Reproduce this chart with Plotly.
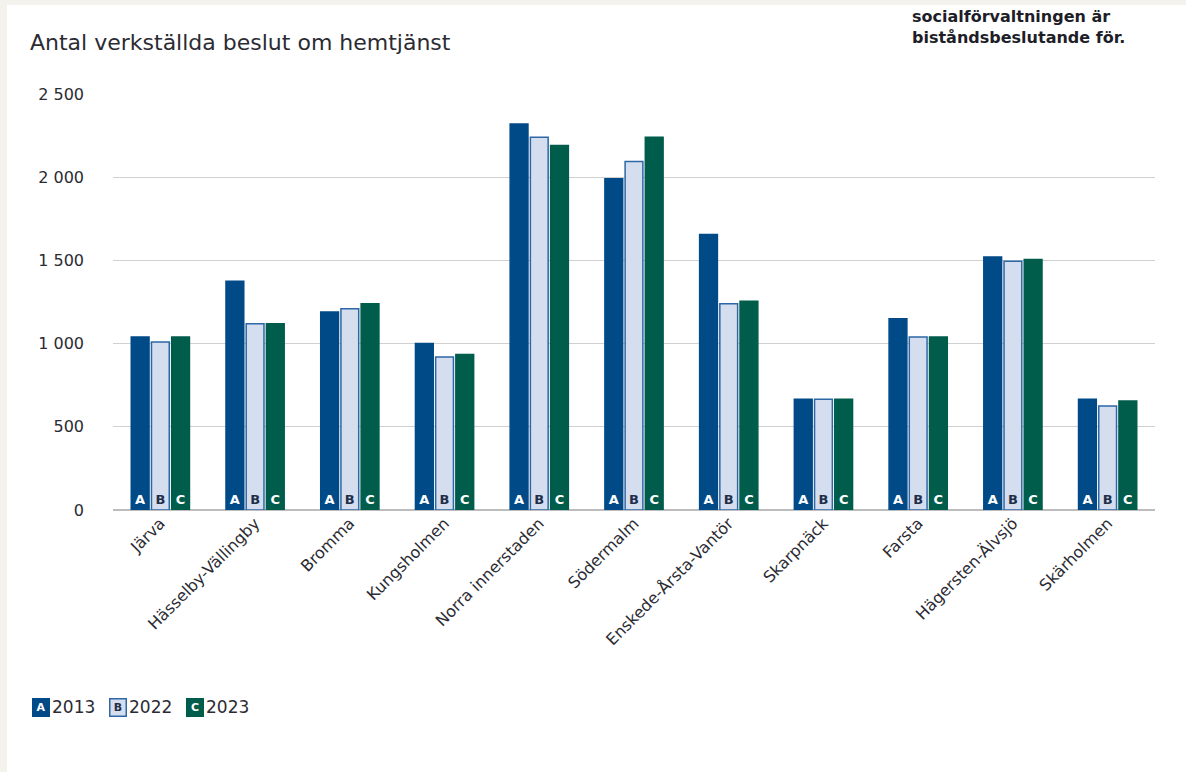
import plotly.graph_objects as go

categories = ["Järva", "Hässelby-Vällingby", "Bromma", "Kungsholmen", "Norra innerstaden",
              "Södermalm", "Enskede-Årsta-Vantör", "Skarpnäck", "Farsta", "Hägersten-Älvsjö", "Skärholmen"]
series_names = ["2013", "2022", "2023"]
series_letters = ["A", "B", "C"]
values_2013 = [1040, 1375, 1190, 1000, 2320, 1990, 1655, 665, 1150, 1520, 665]
values_2022 = [1010, 1120, 1210, 920, 2240, 2095, 1240, 665, 1040, 1495, 625]
values_2023 = [1040, 1120, 1240, 935, 2190, 2240, 1255, 665, 1040, 1505, 655]
y_ticks = [0, 500, 1000, 1500, 2000, 2500]
y_tick_labels = ["0", "500", "1 000", "1 500", "2 000", "2 500"]

W, H = 1186, 772
L, R, T, B = 113, 31, 94, 262
PW, PH = W - L - R, H - T - B
FONT = "DejaVu Sans"

fills = ["#004a87", "#d5deef", "#005c4b"]
lines = ["#004a87", "#2d67a6", "#005c4b"]
text_colors = ["white", "#1f2f4a", "white"]

fig = go.Figure()
for name, letter, vals, fc, lc, tc in zip(series_names, series_letters,
                                          [values_2013, values_2022, values_2023],
                                          fills, lines, text_colors):
    fig.add_trace(go.Bar(
        x=categories, y=vals, name=name,
        marker=dict(color=fc, line=dict(color=lc, width=1.5)),
        text=[letter] * len(vals), textposition="inside", insidetextanchor="start",
        textangle=0, constraintext="none",
        textfont=dict(family=FONT, size=13, color=tc, weight="bold"),
        showlegend=False, hoverinfo="x+y+name",
    ))

def px_x(p):
    return (p - L) / PW

def px_y(p):
    return 1 - (p - T) / PH

shapes = [
    dict(type="rect", xref="paper", yref="paper", x0=px_x(7), x1=px_x(W + 5), y0=px_y(H + 5), y1=px_y(5),
         fillcolor="white", line=dict(width=0), layer="below"),
]

annotations = [
    dict(text="Antal verkställda beslut om hemtjänst", xref="paper", yref="paper",
         x=px_x(28), y=px_y(42), xanchor="left", yanchor="middle", showarrow=False,
         font=dict(family=FONT, size=22, color="#2b2b33")),
    dict(text="<b>socialförvaltningen är<br>biståndsbeslutande för.</b>", xref="paper", yref="paper",
         x=px_x(910), y=px_y(27), xanchor="left", yanchor="middle", showarrow=False, align="left",
         font=dict(family=FONT, size=16, color="#1e1e28")),
]

# legend built from series info
lx = 32
for name, letter, fc, lc, tc in zip(series_names, series_letters, fills, lines, text_colors):
    annotations.append(dict(text="<b>" + letter + "</b>", xref="paper", yref="paper",
                            x=px_x(lx), y=px_y(707), xanchor="left", yanchor="middle", showarrow=False,
                            bgcolor=fc, bordercolor=lc, borderwidth=1.5, borderpad=1,
                            width=13, height=14,
                            font=dict(family=FONT, size=11, color=tc)))
    annotations.append(dict(text=name, xref="paper", yref="paper",
                            x=px_x(lx + 18), y=px_y(707), xanchor="left", yanchor="middle", showarrow=False,
                            font=dict(family=FONT, size=17, color="#2b2b33")))
    lx += 77

fig.update_layout(
    width=W, height=H,
    margin=dict(l=L, r=R, t=T, b=B, autoexpand=False),
    paper_bgcolor="#f3f2ed", plot_bgcolor="white",
    barmode="group", bargap=0.36, bargroupgap=0.12,
    font=dict(family=FONT, color="#2b2b33"),
    xaxis=dict(tickangle=-45, tickfont=dict(size=16, color="#2b2b33"), showgrid=False,
               showline=False, ticks="", automargin=False),
    yaxis=dict(range=[0, 2500], tickvals=y_ticks, ticktext=y_tick_labels,
               tickfont=dict(size=16, color="#2b2b33"), showgrid=True, gridcolor="#d0d0d0",
               gridwidth=1.2, zeroline=True, zerolinecolor="#bdbdbd", zerolinewidth=1.5,
               ticks="", ticklabelstandoff=28, automargin=False),
    shapes=shapes, annotations=annotations,
)

fig.write_html("out.html", config={"displayModeBar": False},
               post_script="document.body.style.margin='0';document.body.style.overflow='hidden';")
